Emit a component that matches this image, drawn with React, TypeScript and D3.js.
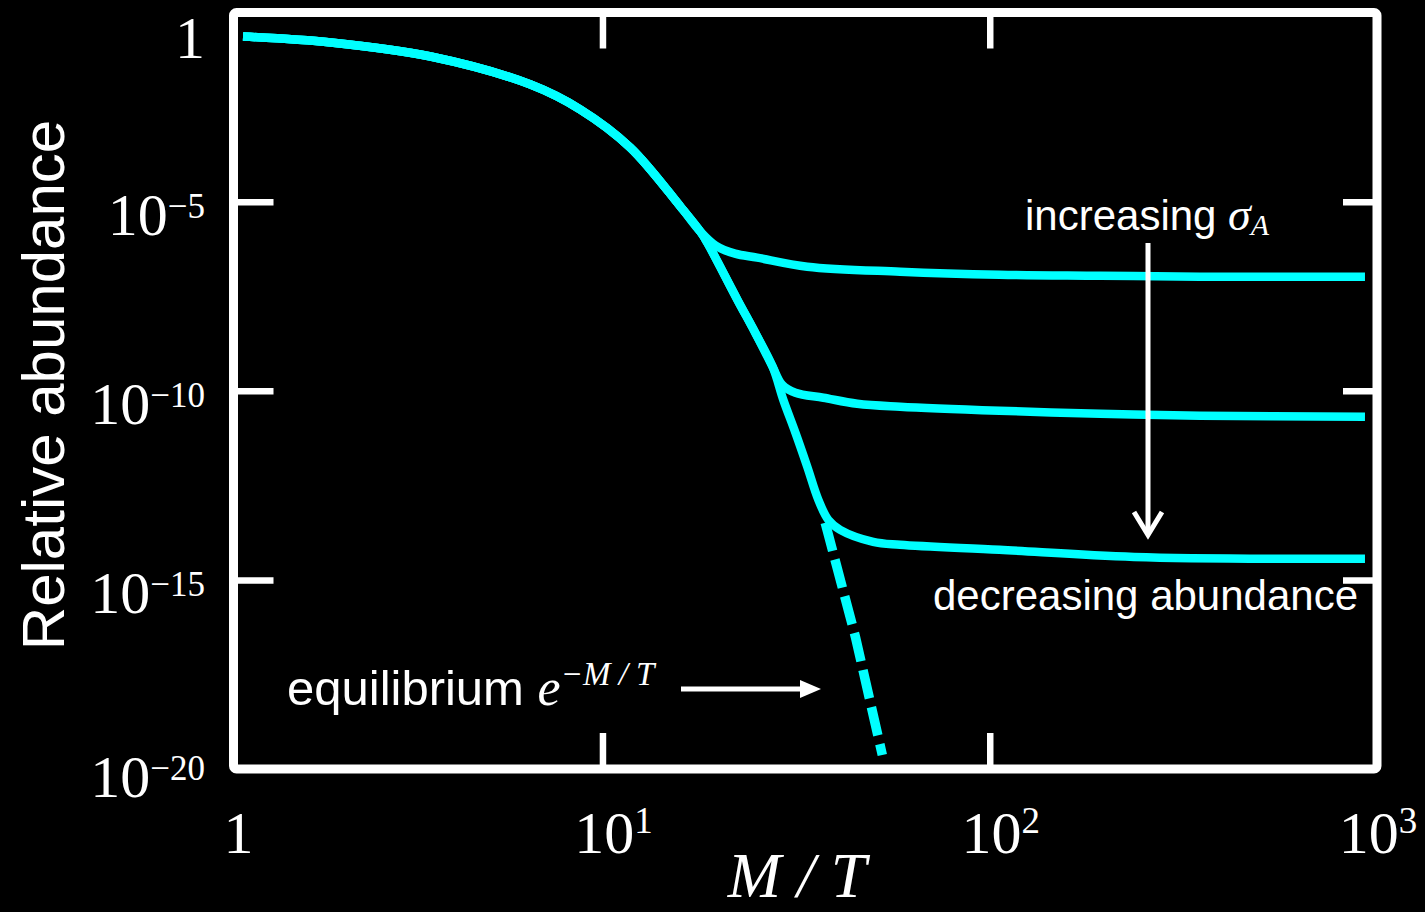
import React, { useEffect, useRef } from 'react';
import * as d3 from 'd3';

// x = M/T, y = log10(relative abundance)
const trunk = [
  [1.18, -0.635], [1.99, -0.794], [3.6, -1.164], [6.52, -1.905],
  [8.77, -2.566], [11.8, -3.571], [15.9, -5.132], [17.9, -5.794]
];
const tailA = [
  [19.6, -6.164], [22.0, -6.376], [25.1, -6.481], [33.8, -6.72],
  [58.7, -6.852], [106, -6.931], [193, -6.958], [349, -6.984], [931, -6.984]
];
const trunkB = [[18.65, -6.085], [22.3, -7.593], [24.8, -8.466], [27.5, -9.365]];
const tailB = [
  [29.1, -9.841], [31.5, -10.053], [37.2, -10.185], [45.5, -10.344],
  [58.7, -10.423], [106, -10.529], [193, -10.608], [349, -10.661], [931, -10.688]
];
const trunkC = [[29.3, -10.238], [31.5, -11.111], [33.8, -12.011], [36.1, -12.884]];
const tailC = [
  [38.3, -13.413], [41.1, -13.677], [50.0, -13.995], [58.7, -14.074],
  [106, -14.206], [236, -14.392], [931, -14.444]
];
const equilibrium = [[37.6, -13.492], [45.0, -16.508], [52.8, -19.63]];

const xDomain = [1.115, 1000];
const yDomain = [1e-20, 1];
const xTickValues = [10, 100];
const yTickValues = [1e-5, 1e-10, 1e-15];
const xLabelValues = [xDomain[0], 10, 100, 1000];
const xLabelBase = ['1', '10', '10', '10'];
const xLabelExp = ['', '1', '2', '3'];
const yLabelValues = [1, 1e-5, 1e-10, 1e-15, 1e-20];
const yLabelBase = ['1', '10', '10', '10', '10'];
const yLabelExp = ['', '\u22125', '\u221210', '\u221215', '\u221220'];

const W = 1425;
const H = 912;
const SERIF = '"Liberation Serif", "Times New Roman", serif';
const SANS = '"Liberation Sans", Arial, sans-serif';
const CYAN = '#00ffff';

export default function App() {
  const ref = useRef<SVGSVGElement>(null);

  useEffect(() => {
    const svg = d3.select(ref.current);
    svg.selectAll('*').remove();

    const left = 233.5, right = 1377, top = 12.5, bottom = 769;

    const x = d3.scaleLog().domain(xDomain).range([left, right]);
    const y = d3.scaleLog().domain(yDomain).range([bottom, top]);

    svg.append('rect').attr('width', W).attr('height', H).attr('fill', '#000');

    // curves
    const line = d3.line<number[]>()
      .x(d => x(d[0]))
      .y(d => y(10 ** d[1]))
      .curve(d3.curveCatmullRom.alpha(0.5));

    const series = [
      [...trunk, ...tailA],
      [...trunk, ...trunkB, ...tailB],
      [...trunk, ...trunkB, ...trunkC, ...tailC]
    ];

    svg.append('g').selectAll('path')
      .data(series)
      .enter().append('path')
      .attr('d', line)
      .attr('fill', 'none')
      .attr('stroke', CYAN)
      .attr('stroke-width', 8.5);

    svg.append('path')
      .attr('d', d3.line<number[]>().x(d => x(d[0])).y(d => y(10 ** d[1]))(equilibrium))
      .attr('fill', 'none')
      .attr('stroke', CYAN)
      .attr('stroke-width', 9.5)
      .attr('stroke-dasharray', '29,9');

    // frame
    svg.append('rect')
      .attr('x', left).attr('y', top)
      .attr('width', right - left).attr('height', bottom - top)
      .attr('rx', 3)
      .attr('fill', 'none')
      .attr('stroke', '#fff')
      .attr('stroke-width', 9);

    // inner ticks on all four sides
    const tickLen = 36;
    const styleAxis = (g: any) => {
      g.select('.domain').remove();
      g.selectAll('text').remove();
      g.selectAll('line').attr('stroke', '#fff').attr('stroke-width', 6.5);
    };
    svg.append('g').attr('transform', `translate(0,${top})`)
      .call(d3.axisBottom(x).tickValues(xTickValues).tickSize(tickLen)).call(styleAxis);
    svg.append('g').attr('transform', `translate(0,${bottom})`)
      .call(d3.axisTop(x).tickValues(xTickValues).tickSize(tickLen)).call(styleAxis);
    svg.append('g').attr('transform', `translate(${left},0)`)
      .call(d3.axisRight(y).tickValues(yTickValues).tickSize(tickLen + 4)).call(styleAxis);
    svg.append('g').attr('transform', `translate(${right},0)`)
      .call(d3.axisLeft(y).tickValues(yTickValues).tickSize(tickLen - 2)).call(styleAxis);

    // x tick labels
    const xl = svg.append('g').selectAll('text')
      .data(xLabelValues)
      .enter().append('text')
      .attr('x', (d, i) => i === 0 ? x(d) + 5 : Math.min(x(d) + 11, 1378))
      .attr('y', 853)
      .attr('text-anchor', 'middle')
      .attr('fill', '#fff')
      .attr('font-family', SERIF)
      .attr('font-size', 60);
    xl.append('tspan').text((d, i) => xLabelBase[i]);
    xl.append('tspan')
      .attr('dy', -20)
      .attr('font-size', 37)
      .text((d, i) => xLabelExp[i]);

    // y tick labels
    const yl = svg.append('g').selectAll('text')
      .data(yLabelValues)
      .enter().append('text')
      .attr('x', 205)
      .attr('y', d => Math.min(797, Math.max(58, y(d) + 33)))
      .attr('text-anchor', 'end')
      .attr('fill', '#fff')
      .attr('font-family', SERIF)
      .attr('font-size', 60);
    yl.append('tspan').text((d, i) => yLabelBase[i]);
    yl.append('tspan')
      .attr('dy', -17)
      .attr('font-size', 35)
      .text((d, i) => yLabelExp[i]);

    // axis titles
    svg.append('text')
      .attr('transform', 'translate(64,385) rotate(-90)')
      .attr('text-anchor', 'middle')
      .attr('fill', '#fff')
      .attr('font-family', SANS)
      .attr('font-size', 60)
      .text('Relative abundance');

    svg.append('text')
      .attr('x', 797).attr('y', 897)
      .attr('text-anchor', 'middle')
      .attr('fill', '#fff')
      .attr('font-family', SERIF)
      .attr('font-style', 'italic')
      .attr('font-size', 64)
      .text('M / T');

    // annotations
    const inc = svg.append('text')
      .attr('x', 1025).attr('y', 230)
      .attr('fill', '#fff')
      .attr('font-family', SANS)
      .attr('font-size', 42);
    inc.append('tspan').text('increasing ');
    inc.append('tspan')
      .attr('font-family', SERIF).attr('font-style', 'italic').attr('font-size', 46)
      .text('\u03c3');
    inc.append('tspan')
      .attr('font-family', SERIF).attr('font-style', 'italic').attr('font-size', 30)
      .attr('dy', 5)
      .text('A');

    svg.append('line')
      .attr('x1', 1148).attr('y1', 243).attr('x2', 1148).attr('y2', 533)
      .attr('stroke', '#fff').attr('stroke-width', 5);
    svg.append('polyline')
      .attr('points', '1134,512 1148,535 1162,512')
      .attr('fill', 'none').attr('stroke', '#fff').attr('stroke-width', 5);

    svg.append('text')
      .attr('x', 933).attr('y', 610)
      .attr('fill', '#fff')
      .attr('font-family', SANS)
      .attr('font-size', 42)
      .text('decreasing abundance');

    const eq = svg.append('text')
      .attr('x', 287).attr('y', 705)
      .attr('fill', '#fff')
      .attr('font-family', SANS)
      .attr('font-size', 49);
    eq.append('tspan').text('equilibrium ');
    eq.append('tspan')
      .attr('font-family', SERIF).attr('font-style', 'italic').attr('font-size', 52)
      .text('e');
    eq.append('tspan')
      .attr('font-family', SERIF).attr('font-style', 'italic').attr('font-size', 33)
      .attr('dy', -20)
      .text('\u2212M / T');

    svg.append('line')
      .attr('x1', 681).attr('y1', 689).attr('x2', 805).attr('y2', 689)
      .attr('stroke', '#fff').attr('stroke-width', 5);
    svg.append('polygon')
      .attr('points', '800,680 821,689 800,698')
      .attr('fill', '#fff');
  }, []);

  return (
    <svg ref={ref} width={W} height={H}
      style={{ position: 'absolute', left: 0, top: 0, display: 'block' }} />
  );
}
